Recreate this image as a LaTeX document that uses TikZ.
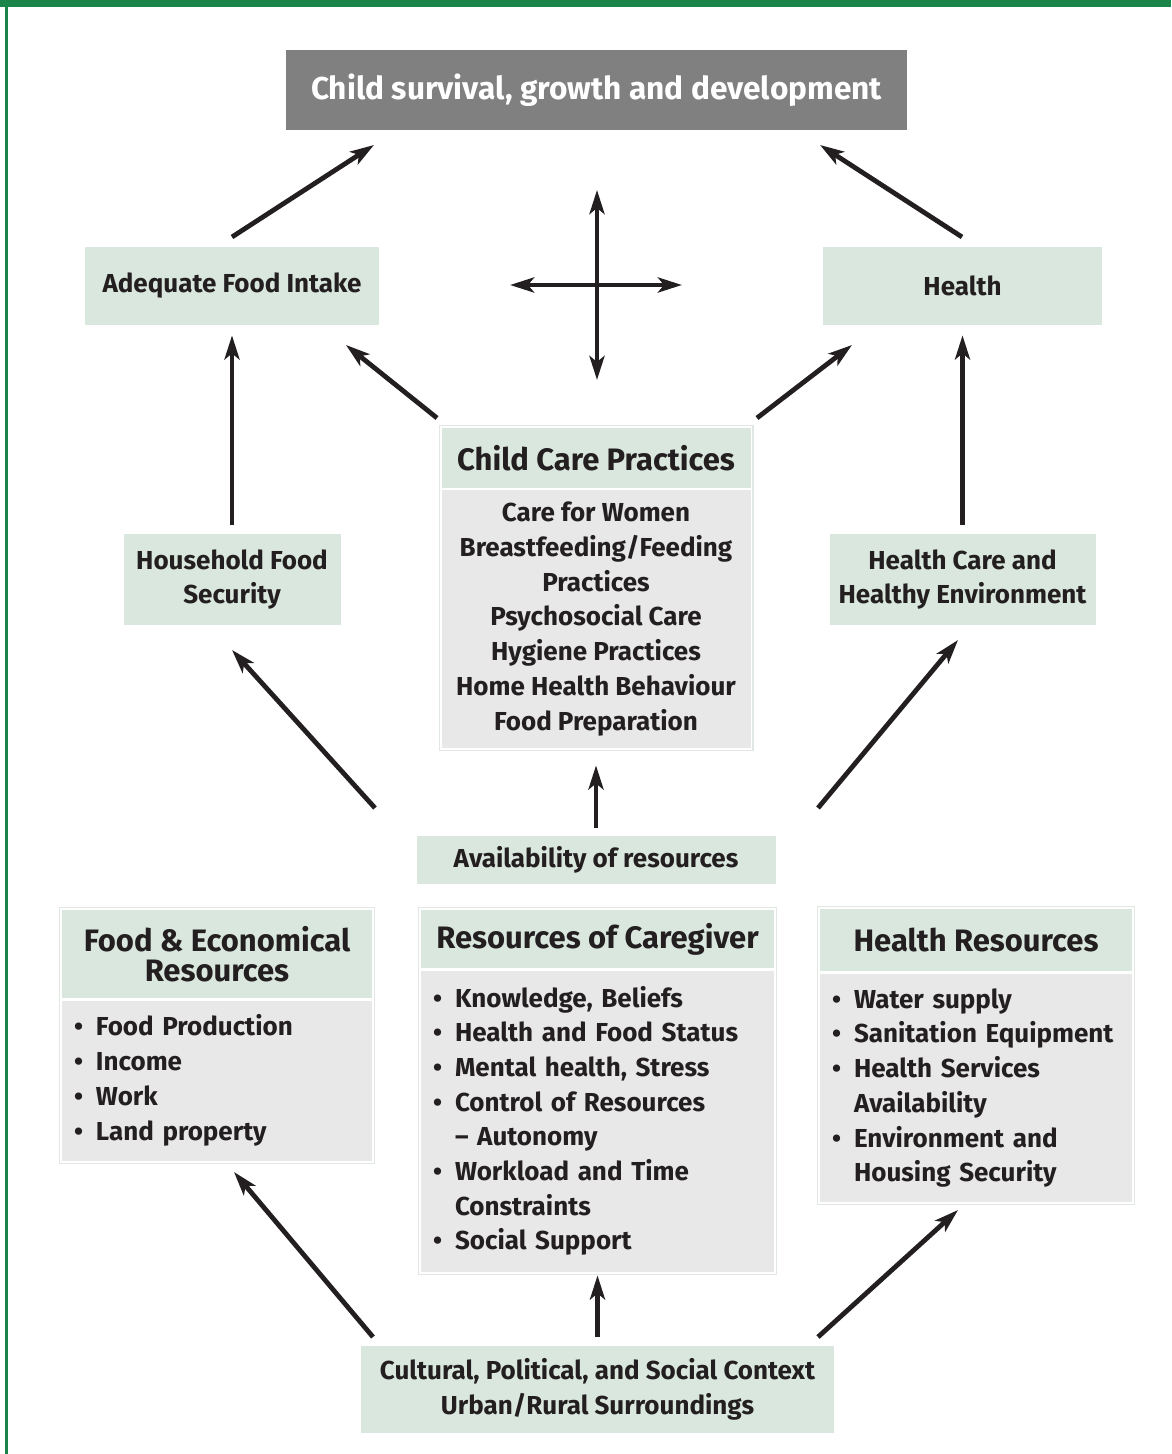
\documentclass[tikz,border=0pt]{standalone}
\usepackage{fontspec}
\setmainfont{Fira Sans}
\usepackage{tikz}
\usetikzlibrary{arrows.meta,fit}
\definecolor{ink}{HTML}{231F20}
\definecolor{band}{HTML}{1B8449}
\definecolor{pale}{HTML}{DAE7DE}
\definecolor{listgray}{HTML}{E8E8E8}
\definecolor{topgray}{HTML}{808080}
\definecolor{rim}{HTML}{E1E8E3}
\newcommand{\blist}[1]{\begin{tabular}{@{}p{11pt}@{}l@{}}#1\end{tabular}}
\tikzset{
  hdr/.style={fill=pale, text=ink, inner sep=0pt, align=center,
    font=\bfseries\fontsize{15.5}{14.8}\selectfont},
  lbl/.style={fill=pale, text=ink, inner sep=0pt, align=center,
    font=\bfseries\fontsize{13}{17.35}\selectfont},
  lst/.style={fill=listgray, text=ink, inner xsep=6pt, inner ysep=0pt, align=left,
    font=\bfseries\fontsize{13}{17.35}\selectfont},
  rimbox/.style={draw=rim, line width=0.6pt, inner sep=1pt},
  arr/.style={draw=ink, line width=2.4pt, -{Stealth[length=12pt,width=7.5pt,inset=3pt]}},
  dbl/.style={draw=ink, line width=2.4pt, {Stealth[length=12pt,width=7.5pt,inset=3pt]}-{Stealth[length=12pt,width=7.5pt,inset=3pt]}}
}
\begin{document}
\begin{tikzpicture}[x=0.5pt,y=-0.5pt]
  \useasboundingbox (0,0) rectangle (1171,1454);
  % frame
  \fill[band] (0,0) rectangle (1171,7);
  \fill[band] (5,0) rectangle (7.5,1454);

  % outcome
  \node[fill=topgray, text=white, inner sep=0pt, minimum width=310.5pt, minimum height=40pt,
    font=\bfseries\fontsize{15.8}{16}\selectfont] (top) at (596.5,90) {Child survival, growth and development};

  % immediate causes
  \node[lbl, minimum width=147pt, minimum height=39pt] (food) at (232,286) {Adequate Food Intake};
  \node[lbl, minimum width=139.5pt, minimum height=39pt] (hlth) at (962.5,286) {Health};

  % underlying causes
  \node[lbl, minimum width=108.5pt, minimum height=45.5pt] (hfs) at (232,579.5) {Household Food\\Security};
  \node[lbl, minimum width=133pt, minimum height=45.5pt] (hce) at (962.5,579.5) {Health Care and\\Healthy Environment};
  \node[hdr, minimum width=154.5pt, minimum height=30pt] (ccph) at (596,458) {Child Care Practices};
  \node[lbl, fill=listgray, minimum width=154.5pt, minimum height=129pt] (ccpb) at (596,619)
    {Care for Women\\Breastfeeding/Feeding\\Practices\\Psychosocial Care\\Hygiene Practices\\Home Health Behaviour\\Food Preparation};
  \node[rimbox, fit=(ccph)(ccpb)] (ccp) {};

  \node[lbl, minimum width=179.5pt, minimum height=24pt] (avail) at (596,860) {Availability of resources};

  % resources
  \node[hdr, minimum width=155pt, minimum height=44pt] (ferh) at (217,954) {Food \& Economical\\Resources};
  \node[lst, text width=143pt, minimum height=80pt] (ferb) at (217,1081)
    {\blist{\textbullet & Food Production\\ \textbullet & Income\\ \textbullet & Work\\ \textbullet & Land property}};
  \node[rimbox, fit=(ferh)(ferb)] (fer) {};

  \node[hdr, minimum width=176.5pt, minimum height=29pt] (roch) at (597.5,939) {Resources of Caregiver};
  \node[lst, text width=164.5pt, minimum height=150.5pt] (rocb) at (597.5,1121.5)
    {\blist{\textbullet & Knowledge, Beliefs\\ \textbullet & Health and Food Status\\ \textbullet & Mental health, Stress\\
      \textbullet & Control of Resources\\ & -- Autonomy\\ \textbullet & Workload and Time\\ & Constraints\\ \textbullet & Social Support}};
  \node[rimbox, fit=(roch)(rocb)] (roc) {};

  \node[hdr, minimum width=156pt, minimum height=31pt] (hrh) at (976,940) {Health Resources};
  \node[lst, text width=144pt, minimum height=114pt] (hrb) at (976,1088)
    {\blist{\textbullet & Water supply\\ \textbullet & Sanitation Equipment\\ \textbullet & Health Services\\ & Availability\\
      \textbullet & Environment and\\ & Housing Security}};
  \node[rimbox, fit=(hrh)(hrb)] (hr) {};

  % basic causes
  \node[lbl, minimum width=236.5pt, minimum height=43.5pt] (ctx) at (597.5,1389.5)
    {Cultural, Political, and Social Context\\Urban/Rural Surroundings};

  % arrow ends
  \coordinate (foodT) at (232,237);  \coordinate (topL) at (374,145);
  \coordinate (hlthT) at (962,237);  \coordinate (topR) at (820,145);
  \coordinate (vTop) at (597,190);   \coordinate (vBot) at (597,380);
  \coordinate (hL) at (510,285);     \coordinate (hR) at (682,285);
  \coordinate (ccpL) at (437,418);   \coordinate (foodB) at (346,345);
  \coordinate (ccpR) at (757,418);   \coordinate (hlthB) at (852,345);
  \coordinate (avL) at (375,808);    \coordinate (hfsB) at (232,650);
  \coordinate (avR) at (818,808);    \coordinate (hceB) at (958,640);
  \coordinate (ctxL) at (373,1337);  \coordinate (ferB) at (234,1172);
  \coordinate (ctxR) at (818,1337);  \coordinate (hrB) at (958,1210);

  \draw[arr] (foodT) -- (topL);
  \draw[arr] (hlthT) -- (topR);
  \draw[dbl] (vTop) -- (vBot);
  \draw[dbl] (hL) -- (hR);
  \draw[arr] (ccpL) -- (foodB);
  \draw[arr] (ccpR) -- (hlthB);
  \draw[arr, shorten <=4.5pt, shorten >=5pt] (hfs.north) -- (food.south);
  \draw[arr, shorten <=4.5pt, shorten >=5pt] (hce.north) -- (hlth.south);
  \draw[arr] (avL) -- (hfsB);
  \draw[arr] (avR) -- (hceB);
  \draw[arr, shorten <=4pt, shorten >=8.5pt] (avail.north) -- (ccpb.south);
  \draw[arr] (ctxL) -- (ferB);
  \draw[arr] (ctxR) -- (hrB);
  \draw[arr, shorten <=4.5pt, shorten >=1.5pt] (ctx.north) -- (rocb.south);
\end{tikzpicture}
\end{document}
